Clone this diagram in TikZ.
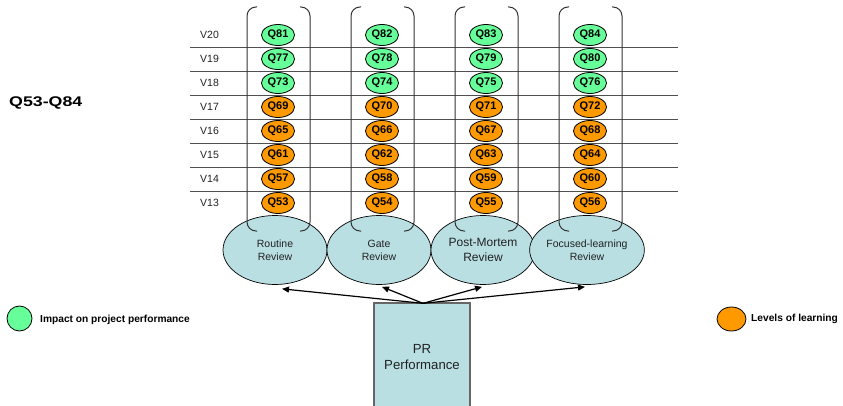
\documentclass[tikz,border=0pt]{standalone}
\usepackage{fontspec}
\usepackage{graphicx}
\setmainfont{Liberation Sans}
\usetikzlibrary{shapes.geometric,arrows.meta,calc}
\definecolor{qgreen}{HTML}{66FF99}
\definecolor{qorange}{HTML}{FF9900}
\definecolor{rblue}{HTML}{B9DFE2}
\definecolor{gridc}{HTML}{505050}
\definecolor{txtc}{HTML}{222222}
\begin{document}
\begin{tikzpicture}[x=1pt,y=-1pt,
  qnode/.style={ellipse, draw=black, line width=0.8pt, minimum width=33pt, minimum height=21pt, inner sep=0pt, font=\fontsize{11}{13}\selectfont\bfseries},
  qg/.style={qnode, fill=qgreen},
  qo/.style={qnode, fill=qorange},
  vlab/.style={anchor=west, inner sep=0pt, text=txtc, font=\fontsize{10.5}{12}\selectfont},
  review/.style={ellipse, draw=black, line width=0.7pt, fill=rblue, minimum width=104pt, minimum height=69pt, inner sep=0pt, align=center, text=txtc, font=\fontsize{10.5}{13}\selectfont},
  gridline/.style={draw=gridc, line width=0.9pt},
  brk/.style={draw=black!80, line width=1pt, rounded corners=9pt},
  prbox/.style={rectangle, draw=black!60, line width=1.3pt, fill=rblue, minimum width=96pt, minimum height=108pt, inner sep=0pt, align=center, text=txtc, font=\fontsize{13.2}{16}\selectfont},
  arr/.style={draw=black, line width=1.2pt, -{Triangle[length=7pt,width=6pt]}},
  legtext/.style={anchor=west, inner sep=0pt, font=\fontsize{10.2}{12}\selectfont\bfseries}
]
\useasboundingbox (0,0) rectangle (843,406);

% grid lines
\foreach \k in {0,...,6}{
  \pgfmathsetmacro\gy{47+24*\k}
  \draw[gridline] (190,\gy) -- (678,\gy);
}

% rows of Q nodes and V labels
\foreach \r in {0,...,7}{
  \pgfmathsetmacro\yy{203-24*\r}
  \pgfmathtruncatemacro\vn{13+\r}
  \node[vlab] (v\vn) at (200,\yy) {V\vn};
  \foreach \c in {1,...,4}{
    \pgfmathsetmacro\xx{278+104*(\c-1)}
    \pgfmathtruncatemacro\qn{53+4*\r+\c-1}
    \ifnum\r>4 \def\qs{qg}\else\def\qs{qo}\fi
    \node[\qs] (q\qn) at (\xx,\yy) {Q\qn};
  }
}

% review ellipses
\node[review] (r1) at (275,250) {Routine\\Review};
\node[review] (r2) at (379,250) {Gate\\Review};
\node[review, font=\fontsize{12}{14.5}\selectfont] (r3) at (483,250) {Post-Mortem\\Review};
\node[review] (r4) at (587,250) {Focused-learning\\Review};

% brackets
\foreach \c in {1,...,4}{
  \pgfmathsetmacro\cx{278+104*(\c-1)}
  \draw[brk] (\cx-21,7) -- (\cx-31,7) -- (\cx-31,231) -- (\cx-21,231);
  \draw[brk] (\cx+22,7) -- (\cx+32,7) -- (\cx+32,231) -- (\cx+22,231);
}

% PR box
\node[prbox] (pr) at (422,357) {PR\\Performance};
\coordinate (src) at ($(pr.north)+(1,1)$);
\draw[arr] (src) -- ($(r1.south)+(7,4)$);
\draw[arr] (src) -- ($(r2.south)+(3,2)$);
\draw[arr] (src) -- ($(r3.south)+(-1,2)$);
\draw[arr] (src) -- ($(r4.south)+(-2,2)$);

% title
\node[anchor=west, inner sep=0pt, font=\fontsize{14}{16}\selectfont\bfseries] (title) at (9,103) {\scalebox{1.27}[1]{Q53-Q84}};

% legend
\node[circle, draw=black, line width=0.8pt, fill=qgreen, minimum size=25pt, inner sep=0pt] (lg) at (19.5,318.5) {};
\node[legtext] (lgt) at (40,320) {Impact on project performance};
\node[ellipse, draw=black, line width=0.8pt, fill=qorange, minimum width=29pt, minimum height=24pt, inner sep=0pt] (lo) at (731.5,319) {};
\node[legtext] (lot) at (751,319) {Levels of learning};
\end{tikzpicture}
\end{document}
